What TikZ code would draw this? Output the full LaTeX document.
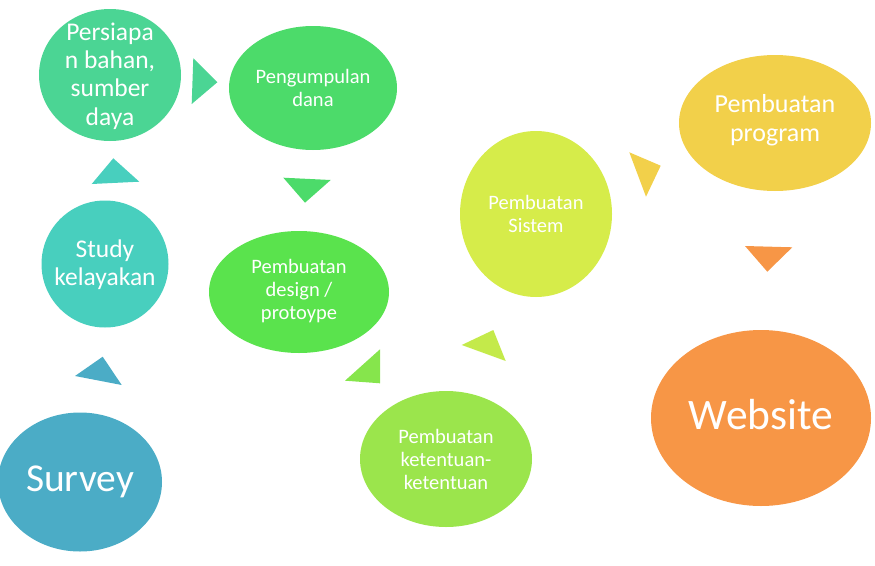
\documentclass[tikz,border=0pt]{standalone}
\usepackage{fontspec}
\setmainfont{Carlito}
\usetikzlibrary{shapes.geometric}
\definecolor{cSurvey}{RGB}{75,172,198}
\definecolor{cStudy}{RGB}{72,207,190}
\definecolor{cPersiapan}{RGB}{75,213,148}
\definecolor{cDana}{RGB}{76,219,106}
\definecolor{cDesign}{RGB}{90,227,77}
\definecolor{cKetentuan}{RGB}{155,229,76}
\definecolor{cTriK}{RGB}{134,229,76}
\definecolor{cSistem}{RGB}{214,236,74}
\definecolor{cTriS}{RGB}{196,234,74}
\definecolor{cProgram}{RGB}{242,208,74}
\definecolor{cWebsite}{RGB}{247,150,70}
\tikzset{
  bub/.style={ellipse, draw=none, inner sep=0pt},
  txtbig/.style={text=white, align=center, font=\fontsize{25.5}{28.3}\selectfont},
  txtsmall/.style={text=white, align=center, font=\fontsize{20.5}{23}\selectfont},
  txthuge/.style={text=white, align=center, font=\fontsize{39.5}{46}\selectfont},
}
\begin{document}
\begin{tikzpicture}[x=1pt,y=-1pt]
\useasboundingbox (0,0) rectangle (875,565);
% bubbles
\node[bub, fill=cSurvey, minimum width=164pt, minimum height=139pt] (survey) at (80,482) {};
\node[bub, fill=cStudy, minimum width=127pt, minimum height=127pt] (study) at (105,264) {};
\node[bub, fill=cPersiapan, minimum width=142pt, minimum height=132pt] (persiapan) at (110,75) {};
\node[bub, fill=cDana, minimum width=168pt, minimum height=124pt] (dana) at (313,88) {};
\node[bub, fill=cDesign, minimum width=180pt, minimum height=122pt] (design) at (299,292) {};
\node[bub, fill=cKetentuan, minimum width=172pt, minimum height=136pt] (ketentuan) at (446,459) {};
\node[bub, fill=cSistem, minimum width=152pt, minimum height=166pt] (sistem) at (536,214) {};
\node[bub, fill=cProgram, minimum width=192pt, minimum height=136pt] (program) at (775,123) {};
\node[bub, fill=cWebsite, minimum width=220pt, minimum height=176pt] (website) at (761,418) {};
% texts
\node[txthuge] (tsurvey) at (80,482) {Survey};
\node[txtbig] (tstudy) at (105,265) {Study\\kelayakan};
\node[txtbig] (tpersiapan) at (110,76) {Persiapa\\n bahan,\\sumber\\daya};
\node[txtsmall] (tdana) at (313,88) {Pengumpulan\\dana};
\node[txtsmall] (tdesign) at (299,291) {Pembuatan\\design /\\protoype};
\node[txtsmall] (tketentuan) at (446,459) {Pembuatan\\ketentuan-\\ketentuan};
\node[txtsmall] (tsistem) at (536,214) {Pembuatan\\Sistem};
\node[txtbig, font=\fontsize{26}{29}\selectfont] (tprogram) at (775,120) {Pembuatan\\program};
\node[txthuge, font=\fontsize{43.5}{50}\selectfont] (twebsite) at (761,415) {Website};
% arrow triangles
\fill[cSurvey] (75,376) -- (102.7,356.7) -- (121.7,385) -- cycle;
\fill[cStudy] (91.7,184) -- (113.3,158.3) -- (139.3,181.7) -- cycle;
\fill[cPersiapan] (193.3,58.3) -- (217.3,82.3) -- (191.7,104) -- cycle;
\fill[cDana] (283.3,177.7) -- (330.7,180) -- (305,202.7) -- cycle;
\fill[cTriK] (380,349.3) -- (380,383.3) -- (345,380.7) -- cycle;
\fill[cTriS] (461.7,345) -- (493.3,330) -- (505.7,361) -- cycle;
\fill[cProgram] (629.3,152.3) -- (660.7,165.7) -- (646,196.7) -- cycle;
\fill[cWebsite] (745,246) -- (792.3,247.3) -- (767.3,271.7) -- cycle;
\end{tikzpicture}
\end{document}
